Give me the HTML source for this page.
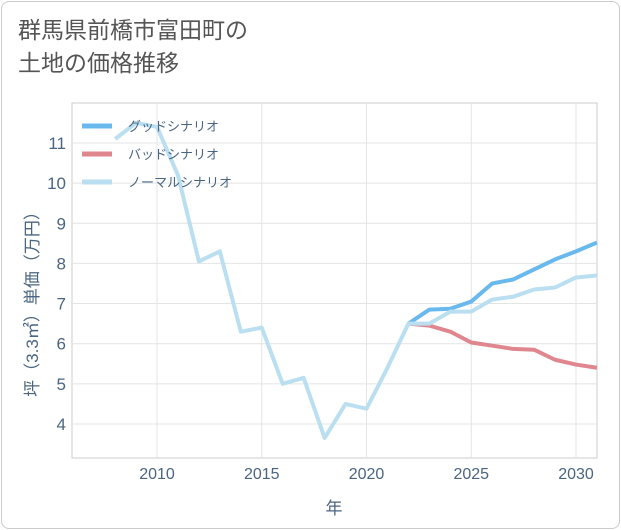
<!DOCTYPE html>
<html><head><meta charset="utf-8"><style>
body{margin:0;background:#fff;font-family:"Liberation Sans","Noto Sans CJK JP",sans-serif;}
#card{position:absolute;left:1px;top:1px;width:617px;height:526px;border:1px solid #ccc;border-radius:8px;background:#fff;}
#title{position:absolute;left:18px;top:14px;font-size:23px;line-height:33px;color:#555;}
svg{position:absolute;left:0;top:0;}
</style></head><body>
<div id="card"></div>
<div id="title">群馬県前橋市富田町の<br>土地の価格推移</div>
<svg id="chart" width="621" height="530"></svg>
<script>
const normalYears=[2008,2009,2010,2011,2012,2013,2014,2015,2016,2017,2018,2019,2020,2021,2022,2023,2024,2025,2026,2027,2028,2029,2030,2031];
const normalVals=[11.1,11.5,11.4,10.2,8.05,8.3,6.3,6.4,5.0,5.15,3.65,4.5,4.38,5.4,6.5,6.5,6.8,6.8,7.1,7.17,7.35,7.4,7.65,7.7];
const futureYears=[2022,2023,2024,2025,2026,2027,2028,2029,2030,2031];
const goodVals=[6.5,6.85,6.87,7.05,7.5,7.6,7.85,8.1,8.3,8.52];
const badVals=[6.5,6.45,6.3,6.03,5.95,5.87,5.85,5.6,5.48,5.4];
const xTicks=[2010,2015,2020,2025,2030];
const yTicks=[4,5,6,7,8,9,10,11];
const NS="http://www.w3.org/2000/svg";
const svg=document.getElementById('chart');
const L=72,R=597,T=103,B=458;
const TXT='#4a6582';
const x=y=>157+(y-2010)*20.95;
const yv=v=>143+(11-v)*40.14;
function el(t,a,p){const e=document.createElementNS(NS,t);for(const k in a)e.setAttribute(k,a[k]);(p||svg).appendChild(e);return e;}
const frame=el('rect',{x:L,y:T,width:R-L,height:B-T,fill:'none',stroke:'#ccc'});


xTicks.forEach(t=>{
 const g=el('line',{x1:x(t),x2:x(t),y1:T,y2:B,stroke:'#e4e4e4'});
 
 
 const tx=el('text',{x:x(t),y:479,'text-anchor':'middle','font-size':16,fill:TXT});tx.textContent=t;
 
 
});
yTicks.forEach(t=>{
 const g=el('line',{x1:L,x2:R,y1:yv(t),y2:yv(t),stroke:'#e4e4e4'});
 
 
 const tx=el('text',{x:66,y:yv(t)+6,'text-anchor':'end','font-size':17,fill:TXT});tx.textContent=t;
 
 
});
const xt=el('text',{x:334,y:514,'text-anchor':'middle','font-size':17,fill:TXT});xt.textContent='年';


const yt=el('text',{x:0,y:0,'text-anchor':'middle','font-size':17,fill:TXT,transform:'translate(38,300) rotate(-90)'});yt.textContent='坪（3.3㎡）単価（万円）';


function line(xs,vs,c,name){
 const p=el('polyline',{points:xs.map((yr,i)=>x(yr)+','+yv(vs[i])).join(' '),fill:'none',stroke:c,'stroke-width':4,'stroke-linejoin':'round'});
 
 
}
line(futureYears,goodVals,'#6ab9ee','good-scenario-line');
line(futureYears,badVals,'#e0868e','bad-scenario-line');
line(normalYears,normalVals,'#badff0','normal-scenario-line');
[['グッドシナリオ','#6ab9ee'],['バッドシナリオ','#e0868e'],['ノーマルシナリオ','#badff0']].forEach((d,i)=>{
 const yy=126+i*28;
 const ln=el('line',{x1:82,x2:112,y1:yy,y2:yy,stroke:d[1],'stroke-width':5});
 
 
 const tx=el('text',{x:128,y:yy+5,'font-size':13,fill:TXT});tx.textContent=d[0];
 
 
});
</script>
</body></html>
